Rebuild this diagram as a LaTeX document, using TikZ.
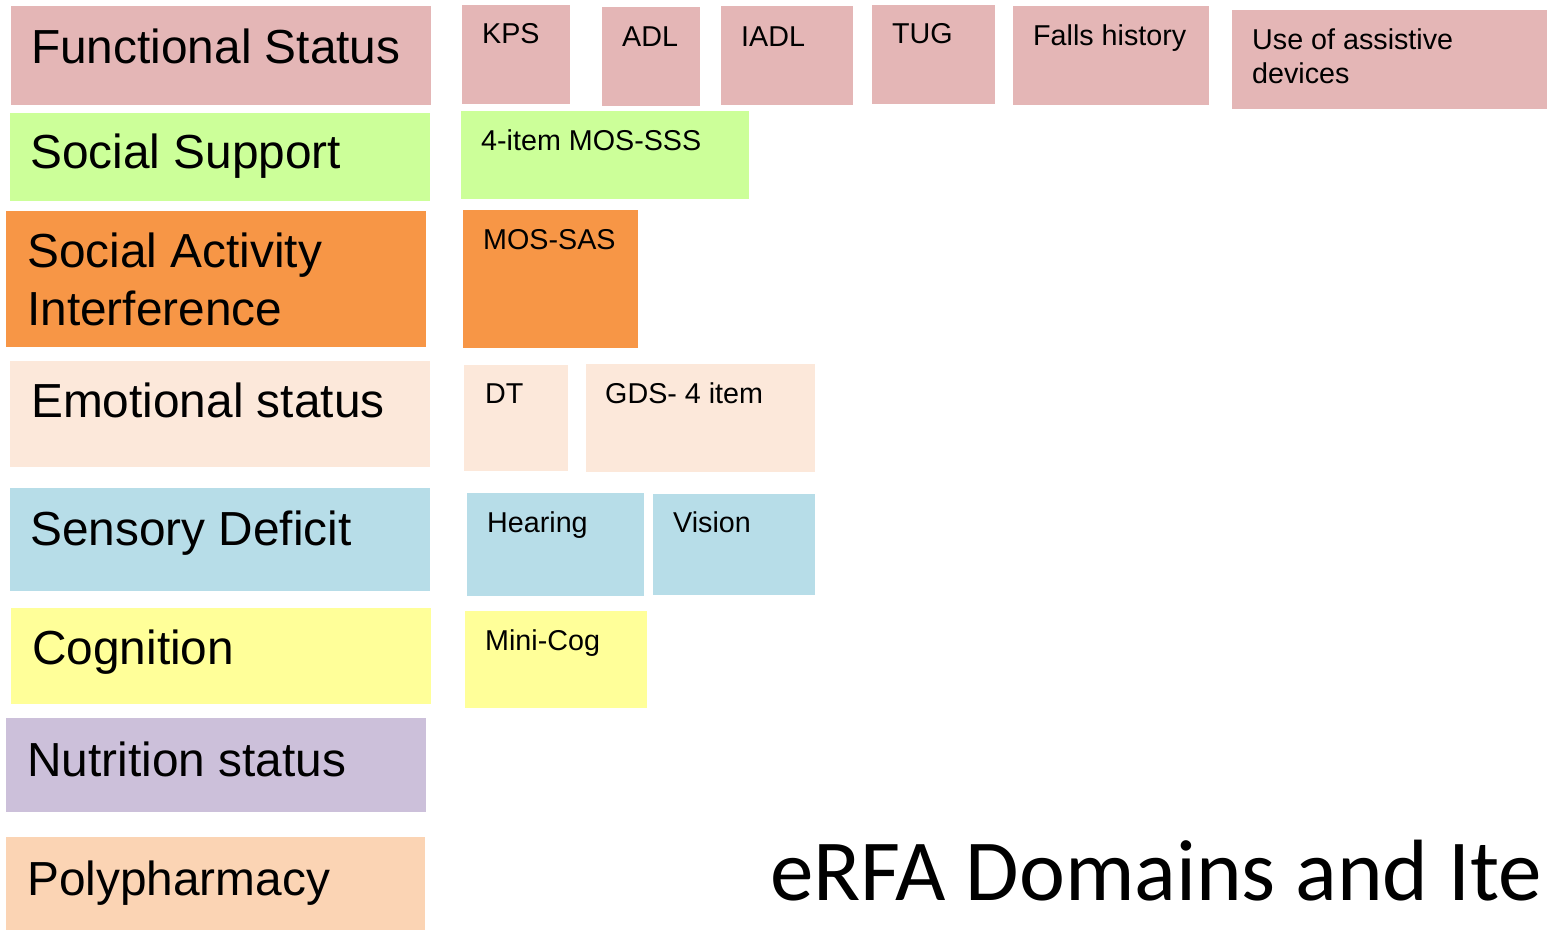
\documentclass[tikz,border=0pt]{standalone}
\usepackage{fontspec}
\setmainfont{Liberation Sans}
\newfontfamily\titlefont{Carlito}
\usepackage{tikz}
\definecolor{FuncPink}{HTML}{E4B6B6}
\definecolor{SuppGreen}{HTML}{CCFF99}
\definecolor{ActOrange}{HTML}{F79646}
\definecolor{EmotPeach}{HTML}{FCE8DA}
\definecolor{SensBlue}{HTML}{B7DDE8}
\definecolor{CognYellow}{HTML}{FFFF99}
\definecolor{NutrLilac}{HTML}{CCC0DA}
\definecolor{PolyPeach}{HTML}{FBD4B4}

\begin{document}
\begin{tikzpicture}[x=1pt,y=-1pt,
  tile/.style={anchor=north west,inner sep=0pt,outer sep=0pt,draw=none},
  dtext/.style={anchor=base west,inner sep=0pt,font=\fontsize{47.8}{58}\selectfont},
  itext/.style={anchor=base west,inner sep=0pt,font=\fontsize{28.7}{34}\selectfont}]
  \useasboundingbox (0,0) rectangle (1547,930);

  % domains, left column
  \node[tile,fill=FuncPink,minimum width=420pt,minimum height=99pt] (func) at (11,6) {};
  \node[tile,fill=SuppGreen,minimum width=420pt,minimum height=88pt] (supp) at (10,113) {};
  \node[tile,fill=ActOrange,minimum width=420pt,minimum height=136pt] (act) at (6,211) {};
  \node[tile,fill=EmotPeach,minimum width=420pt,minimum height=106pt] (emot) at (10,361) {};
  \node[tile,fill=SensBlue,minimum width=420pt,minimum height=103pt] (sens) at (10,488) {};
  \node[tile,fill=CognYellow,minimum width=420pt,minimum height=96pt] (cogn) at (11,608) {};
  \node[tile,fill=NutrLilac,minimum width=420pt,minimum height=94pt] (nutr) at (6,718) {};
  \node[tile,fill=PolyPeach,minimum width=419pt,minimum height=93pt] (poly) at (6,837) {};

  \node[dtext] (func-t) at ([shift={(20,57)}]func.north west) {Functional Status};
  \node[dtext] (supp-t) at ([shift={(20,55)}]supp.north west) {Social Support};
  \node[dtext,anchor=north west,align=left] (act-t) at ([shift={(21,22)}]act.north west) {Social Activity\\Interference};
  \node[dtext] (emot-t) at ([shift={(21,56)}]emot.north west) {Emotional status};
  \node[dtext] (sens-t) at ([shift={(20,57)}]sens.north west) {Sensory Deficit};
  \node[dtext] (cogn-t) at ([shift={(21,56)}]cogn.north west) {Cognition};
  \node[dtext] (nutr-t) at ([shift={(21,58)}]nutr.north west) {Nutrition status};
  \node[dtext] (poly-t) at ([shift={(21,58)}]poly.north west) {Polypharmacy};

  % items
  \node[tile,fill=FuncPink,minimum width=108pt,minimum height=99pt] (kps) at (462,5) {};
  \node[tile,fill=FuncPink,minimum width=98pt,minimum height=99pt] (adl) at (602,7) {};
  \node[tile,fill=FuncPink,minimum width=132pt,minimum height=99pt] (iadl) at (721,6) {};
  \node[tile,fill=FuncPink,minimum width=123pt,minimum height=99pt] (tug) at (872,5) {};
  \node[tile,fill=FuncPink,minimum width=196pt,minimum height=99pt] (falls) at (1013,6) {};
  \node[tile,fill=FuncPink,minimum width=316pt,minimum height=99pt] (assist) at (1232,10) {};
  \node[tile,fill=SuppGreen,minimum width=288pt,minimum height=88pt] (mossss) at (461,111) {};
  \node[tile,fill=ActOrange,minimum width=175pt,minimum height=138pt] (mossas) at (463,210) {};
  \node[tile,fill=EmotPeach,minimum width=104pt,minimum height=106pt] (dt) at (464,365) {};
  \node[tile,fill=EmotPeach,minimum width=229pt,minimum height=108pt] (gds) at (586,364) {};
  \node[tile,fill=SensBlue,minimum width=177pt,minimum height=103pt] (hear) at (467,493) {};
  \node[tile,fill=SensBlue,minimum width=162pt,minimum height=101pt] (vis) at (653,494) {};
  \node[tile,fill=CognYellow,minimum width=182pt,minimum height=97pt] (mini) at (465,611) {};

  \node[itext] (kps-t) at ([shift={(20,38)}]kps.north west) {KPS};
  \node[itext] (adl-t) at ([shift={(20,39)}]adl.north west) {ADL};
  \node[itext] (iadl-t) at ([shift={(20,40)}]iadl.north west) {IADL};
  \node[itext] (tug-t) at ([shift={(20,38)}]tug.north west) {TUG};
  \node[itext] (falls-t) at ([shift={(20,39)}]falls.north west) {Falls history};
  \node[itext,anchor=north west,align=left] (assist-t) at ([shift={(20,18)}]assist.north west) {Use of assistive\\devices};
  \node[itext] (mossss-t) at ([shift={(20,39)}]mossss.north west) {4-item MOS-SSS};
  \node[itext] (mossas-t) at ([shift={(20,39)}]mossas.north west) {MOS-SAS};
  \node[itext] (dt-t) at ([shift={(21,38)}]dt.north west) {DT};
  \node[itext] (gds-t) at ([shift={(19,39)}]gds.north west) {GDS- 4 item};
  \node[itext] (hear-t) at ([shift={(20,39)}]hear.north west) {Hearing};
  \node[itext] (vis-t) at ([shift={(20,38)}]vis.north west) {Vision};
  \node[itext] (mini-t) at ([shift={(20,39)}]mini.north west) {Mini-Cog};

  % title, cut at the right edge as in the slide
  \node[anchor=base west,inner sep=0pt,font=\titlefont\fontsize{87}{87}\selectfont] (title) at (770,900) {eRFA Domains and Ite};
\end{tikzpicture}
\end{document}
